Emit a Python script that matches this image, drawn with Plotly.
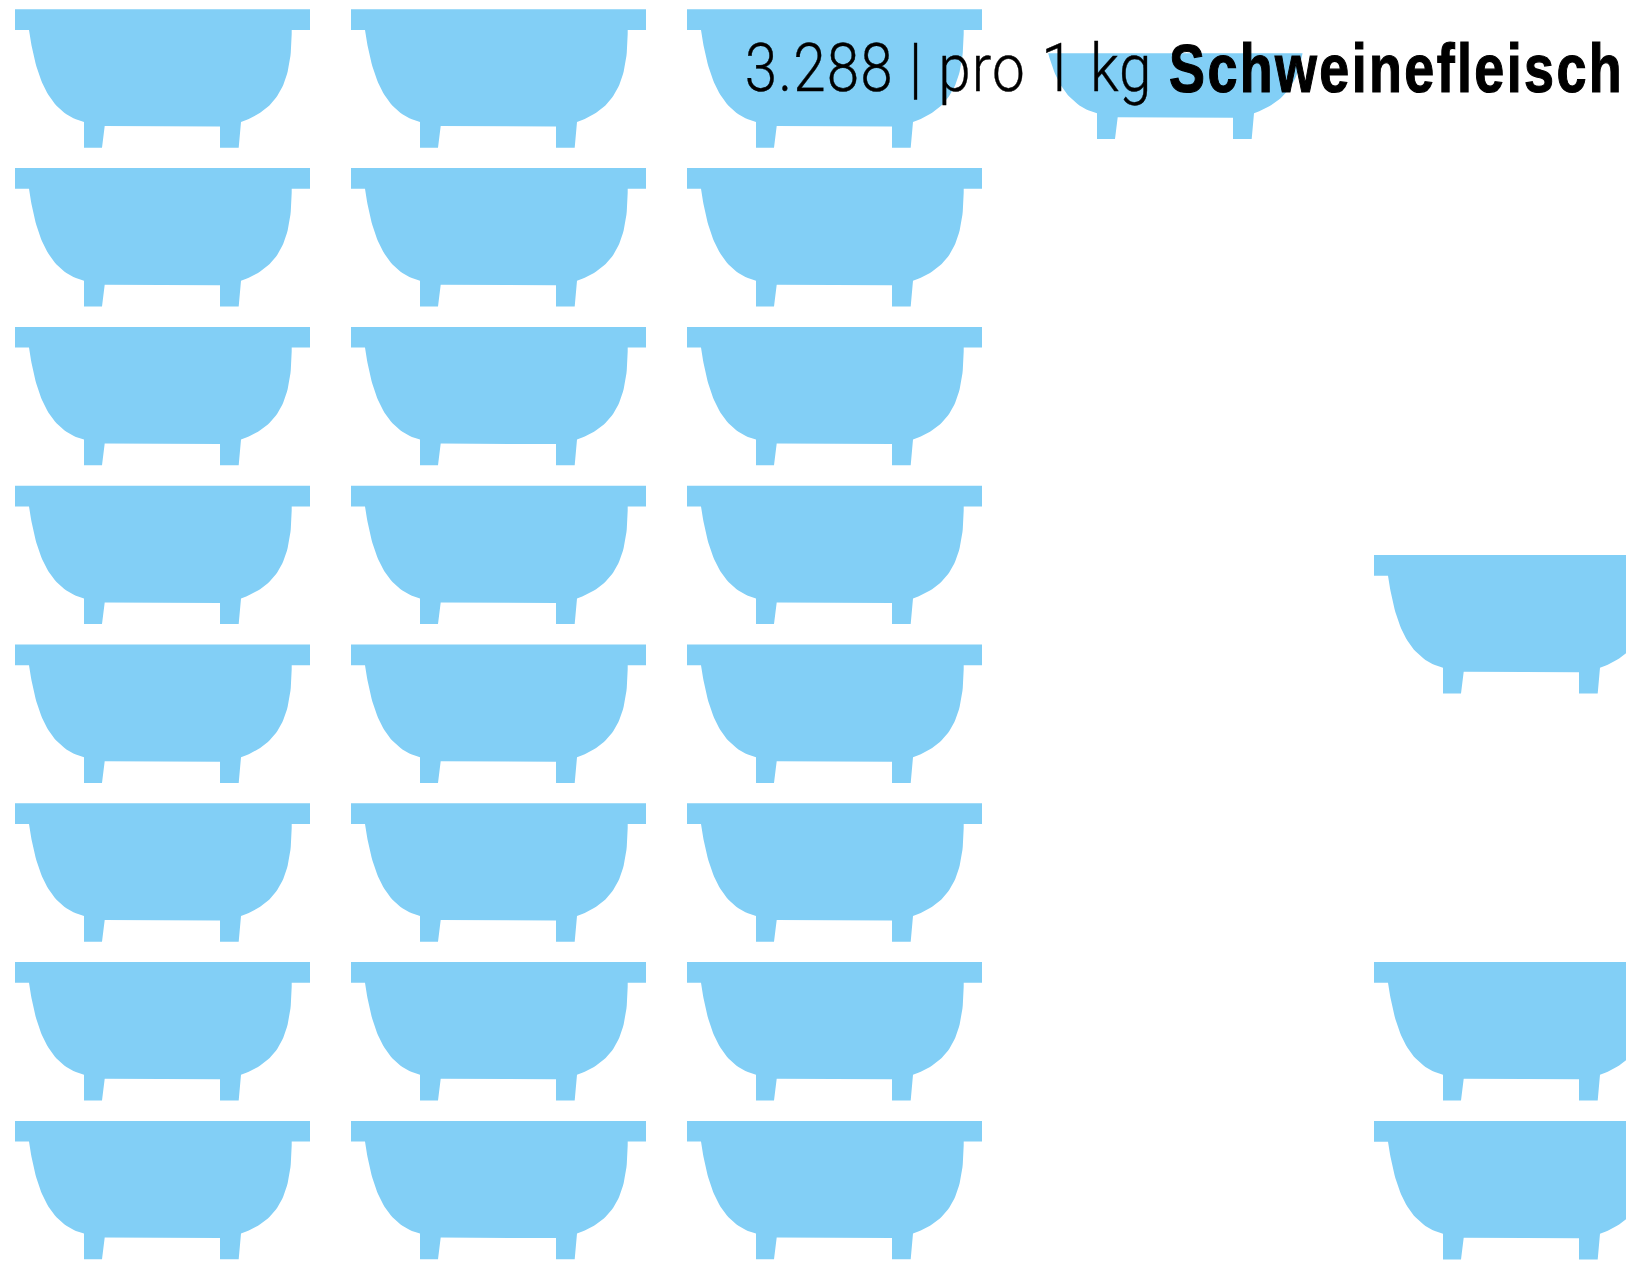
import plotly.graph_objects as go

# Bathtub outline, in pixels relative to the tub's top-left corner.
# Straight parts of the rim and feet, plus the control points of the two curved sides.
TUB_RIM_WIDTH = 295
TUB_RIM_HEIGHT = 20.7
RIGHT_SIDE_CURVE = [(276.7, 20.7), (277, 75), (262, 100), (226, 112.7)]
RIGHT_FOOT = [(223.7, 138.4), (205, 138.4), (205, 117.2)]
LEFT_FOOT = [(89.7, 116.7), (87, 138.4), (69, 138.4)]
LEFT_SIDE_CURVE = [(69, 112.7), (31, 103), (20, 62), (14, 20.7)]

# Tubs standing in the three full columns
COLUMN_X = [15, 351, 687]
ROW_Y = [9.3, 168.1, 326.9, 485.7, 644.5, 803.3, 962.1, 1120.9]
# Tubs that stand alone at the right edge
EXTRA_X = [1374, 1374, 1374]
EXTRA_Y = [555, 962, 1121]
# Tub behind the title, cut off at the top
PARTIAL_X = 1028
PARTIAL_Y = 0.5
PARTIAL_CUT = 53.3

TITLE_LIGHT = "3.288 | pro 1 kg"
TITLE_BOLD = "Schweinefleisch"
TUB_COLOR = "#82CFF6"


def bezier(ctrl, steps=40):
    (x0, y0), (x1, y1), (x2, y2), (x3, y3) = ctrl
    pts = []
    for i in range(steps + 1):
        t = i / steps
        a, b, c, d = (1 - t) ** 3, 3 * t * (1 - t) ** 2, 3 * t * t * (1 - t), t ** 3
        pts.append((a * x0 + b * x1 + c * x2 + d * x3, a * y0 + b * y1 + c * y2 + d * y3))
    return pts


outline = (
    [(0, 0), (TUB_RIM_WIDTH, 0), (TUB_RIM_WIDTH, TUB_RIM_HEIGHT)]
    + bezier(RIGHT_SIDE_CURVE) + RIGHT_FOOT + LEFT_FOOT
    + bezier(LEFT_SIDE_CURVE) + [(0, TUB_RIM_HEIGHT), (0, 0)]
)
TUB_DX = [p[0] for p in outline]
TUB_DY = [p[1] for p in outline]


def clip_below(xs, ys, cut):
    ox, oy = [], []
    n = len(xs)
    for i in range(n):
        x0, y0, x1, y1 = xs[i], ys[i], xs[(i + 1) % n], ys[(i + 1) % n]
        if y0 >= cut:
            ox.append(x0); oy.append(y0)
        if (y0 - cut) * (y1 - cut) < 0:
            t = (cut - y0) / (y1 - y0)
            ox.append(x0 + t * (x1 - x0)); oy.append(cut)
    return ox, oy


px, py = [], []
def add(xs, ys):
    px.extend(xs + [None])
    py.extend(ys + [None])

for cx in COLUMN_X:
    for ry in ROW_Y:
        add([cx + d for d in TUB_DX], [ry + d for d in TUB_DY])
for ex, ey in zip(EXTRA_X, EXTRA_Y):
    add([ex + d for d in TUB_DX], [ey + d for d in TUB_DY])
cx_, cy_ = clip_below([PARTIAL_X + d for d in TUB_DX], [PARTIAL_Y + d for d in TUB_DY], PARTIAL_CUT)
add(cx_, cy_)

fig = go.Figure()
fig.add_trace(go.Scatter(x=px, y=py, mode="lines", fill="toself", fillcolor=TUB_COLOR,
                         line=dict(width=0, color=TUB_COLOR), hoverinfo="skip", showlegend=False))
fig.update_layout(
    width=1626, height=1261, margin=dict(l=0, r=0, t=0, b=0),
    paper_bgcolor="white", plot_bgcolor="white", showlegend=False,
    xaxis=dict(range=[0, 1626], visible=False, fixedrange=True),
    yaxis=dict(range=[1261, 0], visible=False, fixedrange=True),
    annotations=[
        dict(x=948, y=106.7, xref="x", yref="y", xanchor="center", yanchor="bottom", showarrow=False,
             text=TITLE_LIGHT, borderpad=0, borderwidth=0,
             font=dict(family="Roboto", size=66, color="black", weight=300)),
        dict(x=1396, y=106, xref="x", yref="y", xanchor="center", yanchor="bottom", showarrow=False,
             text=TITLE_BOLD, borderpad=0, borderwidth=0,
             font=dict(family="Liberation Sans", size=68, color="black", weight=700)),
    ],
)
FIT = """
document.documentElement.style.margin = '0';
document.documentElement.style.overflow = 'hidden';
document.body.style.margin = '0';
var gd = document.getElementById('{plot_id}');
var t = gd.querySelectorAll('.annotation-text');
var w = [408, 455];
var ls = [1.2, 3];
var sw = [0.4, 1.2];
t.forEach(function(e, i) {
  e.style.letterSpacing = ls[i] + 'px';
  e.style.stroke = 'black';
  e.style.strokeWidth = sw[i] + 'px';
  var s = w[i] / e.getComputedTextLength();
  var x = parseFloat(e.getAttribute('x')) || 0;
  e.setAttribute('transform', 'translate(' + (x * (1 - s)) + ',0) scale(' + s + ',1)');
});
"""
fig.write_html("out.html", config=dict(displayModeBar=False),
               default_width="1626px", default_height="1261px", post_script=FIT)
